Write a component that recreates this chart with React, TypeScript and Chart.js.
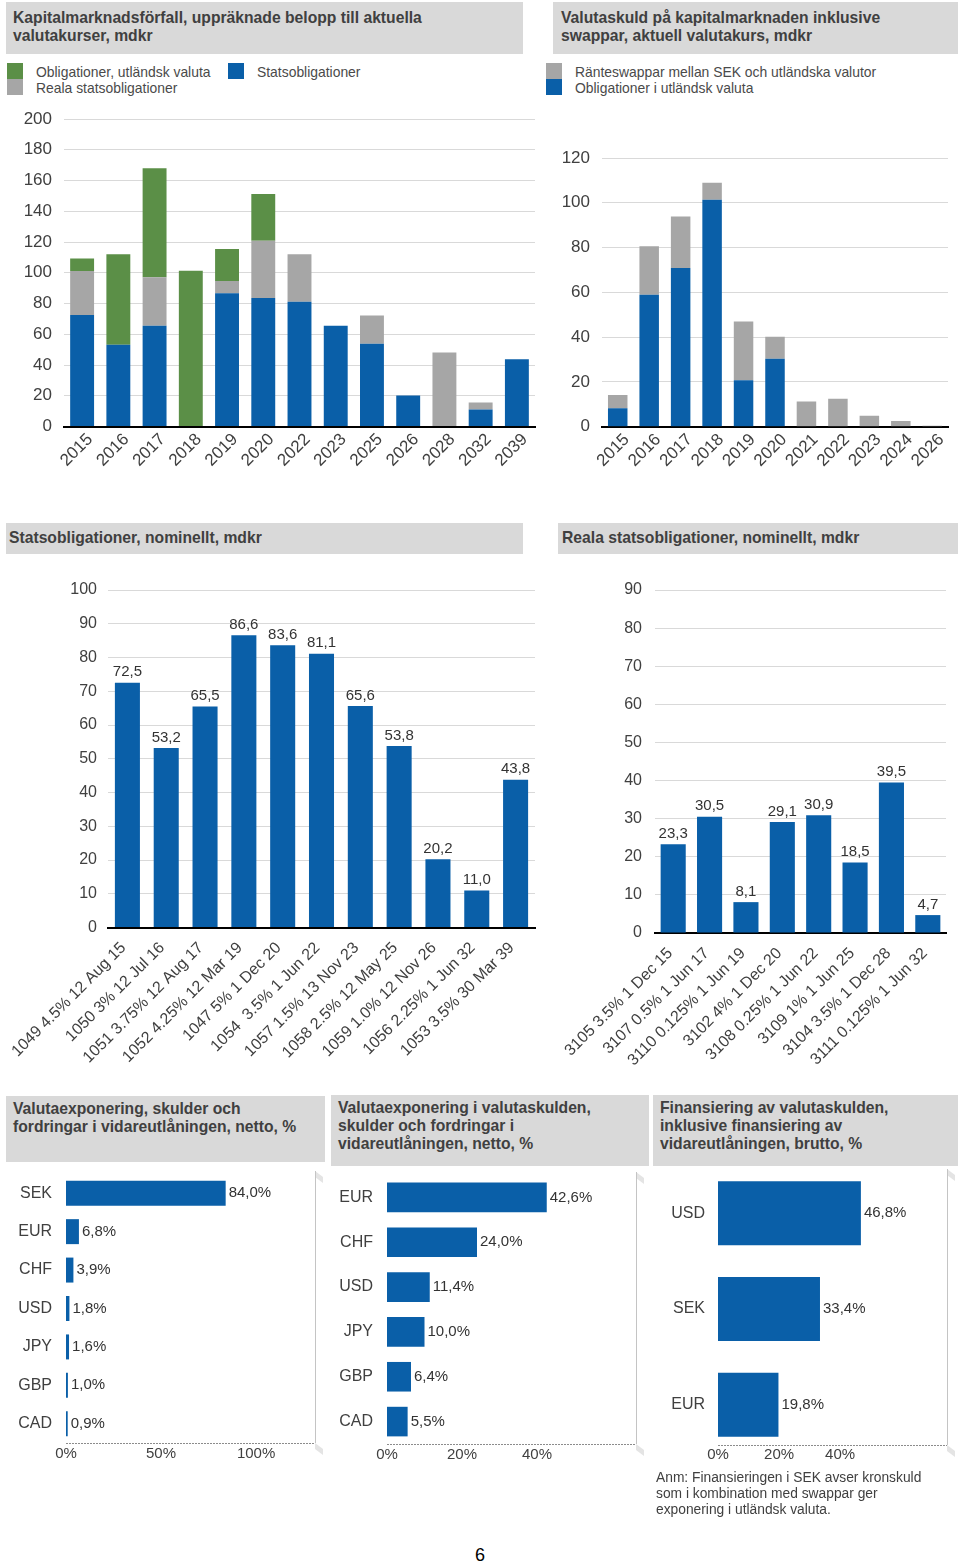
import React, { useEffect, useRef } from "react";
import { Chart, registerables } from "chart.js";

Chart.register(...registerables);

const FONT = '"Liberation Sans", Arial, Helvetica, sans-serif';
const BLUE = "#0a5fa8";
const GREEN = "#5b8f47";
const GRAY = "#a6a6a6";
const TEXT = "#404040";
const GRID = "#d9d9d9";
const BOXBG = "#d9d9d9";

// ---------- Chart 1: Kapitalmarknadsförfall ----------
const c1Years = ["2015", "2016", "2017", "2018", "2019", "2020", "2022", "2023", "2025", "2026", "2028", "2032", "2039"];
const c1Stats = [72.5, 53.2, 65.5, 0, 86.6, 83.6, 81.1, 65.6, 53.8, 20.2, 0, 11.0, 43.8];
const c1Reala = [28.6, 0, 31.5, 0, 8.0, 37.2, 31.0, 0, 18.4, 0, 48.2, 4.6, 0];
const c1Utl = [8.2, 58.9, 70.9, 101.3, 20.8, 30.4, 0, 0, 0, 0, 0, 0, 0];
const c1Names = ["Statsobligationer", "Reala statsobligationer", "Obligationer, utländsk valuta"];

// ---------- Chart 2: Valutaskuld ----------
const c2Years = ["2015", "2016", "2017", "2018", "2019", "2020", "2021", "2022", "2023", "2024", "2026"];
const c2Oblig = [8.2, 58.9, 70.9, 101.3, 20.8, 30.4, 0, 0, 0, 0, 0];
const c2Swap = [6.0, 21.7, 23.0, 7.7, 26.2, 9.8, 11.2, 12.5, 4.9, 2.5, 0.4];
const c2Names = ["Obligationer i utländsk valuta", "Ränteswappar mellan SEK och utländska valutor"];

// ---------- Chart 3: Statsobligationer ----------
const c3Labels = [
  "1049 4.5% 12 Aug 15",
  "1050 3% 12 Jul 16",
  "1051 3.75% 12 Aug 17",
  "1052 4.25% 12 Mar 19",
  "1047 5% 1 Dec 20",
  "1054  3.5% 1 Jun 22",
  "1057 1.5% 13 Nov 23",
  "1058 2.5% 12 May 25",
  "1059 1.0% 12 Nov 26",
  "1056 2.25% 1 Jun 32",
  "1053 3.5% 30 Mar 39",
];
const c3Values = [72.5, 53.2, 65.5, 86.6, 83.6, 81.1, 65.6, 53.8, 20.2, 11.0, 43.8];

// ---------- Chart 4: Reala statsobligationer ----------
const c4Labels = [
  "3105 3.5% 1 Dec 15",
  "3107 0.5% 1 Jun 17",
  "3110 0.125% 1 Jun 19",
  "3102 4% 1 Dec 20",
  "3108 0.25% 1 Jun 22",
  "3109 1% 1 Jun 25",
  "3104 3.5% 1 Dec 28",
  "3111 0.125% 1 Jun 32",
];
const c4Values = [23.3, 30.5, 8.1, 29.1, 30.9, 18.5, 39.5, 4.7];

// ---------- Chart 5-7: horizontal ----------
const c5Labels = ["SEK", "EUR", "CHF", "USD", "JPY", "GBP", "CAD"];
const c5Values = [84.0, 6.8, 3.9, 1.8, 1.6, 1.0, 0.9];
const c5Ticks = [0, 50, 100];

const c6Labels = ["EUR", "CHF", "USD", "JPY", "GBP", "CAD"];
const c6Values = [42.6, 24.0, 11.4, 10.0, 6.4, 5.5];
const c6Ticks = [0, 20, 40];

const c7Labels = ["USD", "SEK", "EUR"];
const c7Values = [46.8, 33.4, 19.8];
const c7Ticks = [0, 20, 40];

const fmtNum = (v: number) => v.toFixed(1).replace(".", ",");
const fmtPct = (v: number) => v.toFixed(1).replace(".", ",") + "%";

const valueLabelPlugin = {
  id: "valueLabels",
  afterDatasetsDraw(chart: any, _args: any, opts: any) {
    if (!opts || !opts.display) return;
    const ctx = chart.ctx;
    ctx.save();
    ctx.font = `${opts.size}px ${FONT}`;
    ctx.fillStyle = opts.color || "#333";
    chart.data.datasets.forEach((ds: any, di: number) => {
      const meta = chart.getDatasetMeta(di);
      meta.data.forEach((el: any, i: number) => {
        const raw = ds.data[i];
        if (raw === null || raw === undefined) return;
        const v = typeof raw === "object" ? raw.x : raw;
        const text = opts.pct ? fmtPct(v) : fmtNum(v);
        if (opts.horizontal) {
          ctx.textAlign = "left";
          ctx.textBaseline = "middle";
          ctx.fillText(text, el.x + opts.offset, el.y);
        } else {
          ctx.textAlign = "center";
          ctx.textBaseline = "bottom";
          ctx.fillText(text, el.x, el.y - opts.offset);
        }
      });
    });
    ctx.restore();
  },
};

const framePlugin = {
  id: "frame",
  beforeDatasetsDraw(chart: any, _args: any, opts: any) {
    if (!opts || !opts.display) return;
    const { left, right, top, bottom } = chart.chartArea;
    const ctx = chart.ctx;
    ctx.save();
    // small 3D wall shading
    ctx.fillStyle = "#e4e4e4";
    ctx.beginPath();
    ctx.moveTo(right, top - 3);
    ctx.lineTo(right + 8, top + 3);
    ctx.lineTo(right + 8, top + 9);
    ctx.lineTo(right, top + 3);
    ctx.closePath();
    ctx.fill();
    ctx.beginPath();
    ctx.moveTo(right, bottom);
    ctx.lineTo(right + 8, bottom + 6);
    ctx.lineTo(right + 8, bottom + 12);
    ctx.lineTo(right, bottom + 6);
    ctx.closePath();
    ctx.fill();
    ctx.strokeStyle = "#c4c4c4";
    ctx.lineWidth = 1;
    ctx.beginPath();
    ctx.moveTo(Math.round(right) + 0.5, top - 3);
    ctx.lineTo(Math.round(right) + 0.5, bottom);
    ctx.stroke();
    ctx.strokeStyle = "#8c8c8c";
    ctx.setLineDash([2, 1]);
    ctx.beginPath();
    ctx.moveTo(left, Math.round(bottom) + 0.5);
    ctx.lineTo(right, Math.round(bottom) + 0.5);
    ctx.stroke();
    ctx.restore();
  },
};

function vBarConfig(p: any) {
  return {
    type: "bar",
    data: {
      labels: p.labels,
      datasets: p.datasets.map((d: any) => ({
        ...d,
        borderWidth: 0,
        barPercentage: p.barPct,
        categoryPercentage: 1,
      })),
    },
    options: {
      responsive: false,
      animation: false,
      devicePixelRatio: 1,
      layout: { padding: { top: p.padTop, right: p.padRight, left: 0, bottom: 0 } },
      plugins: {
        legend: { display: false },
        tooltip: { enabled: false },
        valueLabels: { display: !!p.valueLabels, size: 15, offset: 3, color: "#333" },
      },
      scales: {
        x: {
          stacked: !!p.stacked,
          grid: { display: false, drawTicks: false },
          border: { display: true, color: "#000", width: 2 },
          ticks: {
            autoSkip: false,
            maxRotation: 45,
            minRotation: 45,
            padding: p.xPad,
            labelOffset: p.xOffset,
            color: TEXT,
            font: { family: FONT, size: p.xFont },
          },
          afterFit: (s: any) => {
            s.height = p.xHeight;
          },
        },
        y: {
          stacked: !!p.stacked,
          min: 0,
          max: p.yMax,
          ticks: {
            stepSize: p.yStep,
            padding: 0,
            color: TEXT,
            font: { family: FONT, size: p.yFont },
          },
          grid: {
            drawTicks: true,
            tickLength: p.yPad,
            tickColor: "rgba(0,0,0,0)",
            lineWidth: 1,
            color: (c: any) => (c.tick && c.tick.value === 0 ? "#000" : GRID),
          },
          border: { display: false },
          afterFit: (s: any) => {
            s.width = p.plotLeft;
          },
        },
      },
    },
    plugins: [valueLabelPlugin],
  };
}

function hBarConfig(p: any) {
  const linear = !!p.indexRange;
  const yScale: any = {
    grid: { display: false, drawTicks: true, tickLength: p.yPad, tickColor: "rgba(0,0,0,0)" },
    border: { display: false },
    ticks: { padding: 0, color: TEXT, font: { family: FONT, size: 16 } },
    afterFit: (s: any) => {
      s.width = p.plotLeft;
    },
  };
  if (linear) {
    yScale.type = "linear";
    yScale.offset = false;
    yScale.bounds = "data";
    yScale.reverse = true;
    yScale.min = p.indexRange[0];
    yScale.max = p.indexRange[1];
    yScale.afterBuildTicks = (s: any) => {
      s.ticks = p.labels.map((_l: string, i: number) => ({ value: i }));
    };
    yScale.ticks.callback = (v: any) => p.labels[v];
  }
  return {
    type: "bar",
    data: {
      labels: linear ? undefined : p.labels,
      datasets: [
        {
          data: linear ? p.values.map((v: number, i: number) => ({ x: v, y: i })) : p.values,
          backgroundColor: BLUE,
          borderWidth: 0,
          barPercentage: p.barPct,
          categoryPercentage: 1,
        },
      ],
    },
    options: {
      indexAxis: "y",
      responsive: false,
      animation: false,
      devicePixelRatio: 1,
      layout: { padding: { top: p.padTop, right: p.padRight, left: 0, bottom: 0 } },
      plugins: {
        legend: { display: false },
        tooltip: { enabled: false },
        valueLabels: { display: true, horizontal: true, pct: true, size: 15, offset: 3, color: "#333" },
        frame: { display: true },
      },
      scales: {
        y: yScale,
        x: {
          min: 0,
          max: p.xMax,
          grid: { display: false, drawTicks: false },
          border: { display: false },
          ticks: {
            padding: p.xPad,
            color: TEXT,
            font: { family: FONT, size: 15 },
            callback: (v: any) => v + "%",
          },
          afterBuildTicks: (s: any) => {
            s.ticks = p.ticks.map((v: number) => ({ value: v }));
          },
          afterFit: (s: any) => {
            s.height = p.xHeight;
          },
        },
      },
    },
    plugins: [valueLabelPlugin, framePlugin],
  };
}

function ChartCanvas({ left, top, width, height, config }: any) {
  const ref = useRef<HTMLCanvasElement>(null);
  useEffect(() => {
    const chart = new Chart(ref.current as HTMLCanvasElement, config);
    return () => chart.destroy();
  }, []);
  return (
    <canvas
      ref={ref}
      width={width}
      height={height}
      style={{ position: "absolute", left, top, width, height }}
    />
  );
}

function TitleBox({ left, top, width, height, lines, padLeft, padTop }: any) {
  return (
    <div
      style={{
        position: "absolute",
        left,
        top,
        width,
        height,
        background: BOXBG,
      }}
    >
      <div
        style={{
          position: "absolute",
          left: padLeft,
          top: padTop,
          fontFamily: FONT,
          fontWeight: "bold",
          fontSize: 15.7,
          lineHeight: "18px",
          color: TEXT,
          whiteSpace: "nowrap",
        }}
      >
        {lines.map((l: string, i: number) => (
          <div key={i}>{l}</div>
        ))}
      </div>
    </div>
  );
}

function LegendItem({ left, top, color, label }: any) {
  return (
    <>
      <div style={{ position: "absolute", left, top, width: 16, height: 16, background: color }} />
      <div
        style={{
          position: "absolute",
          left: left + 29,
          top: top + 1,
          height: 16,
          lineHeight: "16px",
          fontFamily: FONT,
          fontSize: 13.9,
          color: "#4a4a4a",
          whiteSpace: "nowrap",
        }}
      >
        {label}
      </div>
    </>
  );
}

export default function App() {
  const cfg1 = vBarConfig({
    labels: c1Years,
    datasets: [
      { label: c1Names[0], data: c1Stats, backgroundColor: BLUE },
      { label: c1Names[1], data: c1Reala, backgroundColor: GRAY },
      { label: c1Names[2], data: c1Utl, backgroundColor: GREEN },
    ],
    stacked: true,
    yMax: 200,
    yStep: 20,
    yFont: 17,
    xFont: 17,
    plotLeft: 64,
    yPad: 12,
    padTop: 18,
    padRight: 10,
    xHeight: 54.5,
    xPad: 3,
    xOffset: 8,
    barPct: 0.66,
  });
  const cfg2 = vBarConfig({
    labels: c2Years,
    datasets: [
      { label: c2Names[0], data: c2Oblig, backgroundColor: BLUE },
      { label: c2Names[1], data: c2Swap, backgroundColor: GRAY },
    ],
    stacked: true,
    yMax: 120,
    yStep: 20,
    yFont: 17,
    xFont: 17,
    plotLeft: 62,
    yPad: 12,
    padTop: 57,
    padRight: 12,
    xHeight: 54.3,
    xPad: 3,
    xOffset: 9,
    barPct: 0.62,
  });
  const cfg3 = vBarConfig({
    labels: c3Labels,
    datasets: [{ label: "Statsobligationer", data: c3Values, backgroundColor: BLUE }],
    yMax: 100,
    yStep: 10,
    yFont: 16,
    xFont: 16,
    plotLeft: 108,
    yPad: 11,
    padTop: 18,
    padRight: 10,
    xHeight: 144.5,
    xPad: 11,
    xOffset: -4,
    barPct: 0.645,
    valueLabels: true,
  });
  const cfg4 = vBarConfig({
    labels: c4Labels,
    datasets: [{ label: "Reala statsobligationer", data: c4Values, backgroundColor: BLUE }],
    yMax: 90,
    yStep: 10,
    yFont: 16,
    xFont: 16,
    plotLeft: 110,
    yPad: 13,
    padTop: 18,
    padRight: 14,
    xHeight: 139,
    xPad: 11,
    xOffset: -3,
    barPct: 0.69,
    valueLabels: true,
  });
  const cfg5 = hBarConfig({
    labels: c5Labels,
    values: c5Values,
    ticks: c5Ticks,
    xMax: 131,
    plotLeft: 66,
    yPad: 14,
    padTop: 13,
    padRight: 15,
    xHeight: 38,
    xPad: 2,
    barPct: 0.65,
  });
  const cfg6 = hBarConfig({
    labels: c6Labels,
    values: c6Values,
    ticks: c6Ticks,
    xMax: 66.4,
    plotLeft: 57,
    yPad: 14,
    padTop: 14,
    padRight: 14,
    xHeight: 37,
    xPad: 2,
    barPct: 0.66,
  });
  const cfg7 = hBarConfig({
    labels: c7Labels,
    values: c7Values,
    ticks: c7Ticks,
    indexRange: [-0.43, 2.42],
    xMax: 75,
    plotLeft: 68,
    yPad: 13,
    padTop: 12,
    padRight: 13,
    xHeight: 35,
    xPad: 1,
    barPct: 0.667,
  });

  return (
    <div
      style={{
        position: "absolute",
        left: 0,
        top: 0,
        width: 960,
        height: 1563,
        background: "#fff",
        overflow: "hidden",
        fontFamily: FONT,
      }}
    >
      <TitleBox
        left={6}
        top={2}
        width={517}
        height={52}
        padLeft={7}
        padTop={7}
        lines={["Kapitalmarknadsförfall, uppräknade belopp till aktuella", "valutakurser, mdkr"]}
      />
      <TitleBox
        left={553}
        top={2}
        width={405}
        height={52}
        padLeft={8}
        padTop={7}
        lines={["Valutaskuld på kapitalmarknaden inklusive", "swappar, aktuell valutakurs, mdkr"]}
      />
      <LegendItem left={7} top={63} color={GREEN} label={c1Names[2]} />
      <LegendItem left={7} top={79} color={GRAY} label={c1Names[1]} />
      <LegendItem left={228} top={63} color={BLUE} label={c1Names[0]} />
      <LegendItem left={546} top={63} color={GRAY} label={c2Names[1]} />
      <LegendItem left={546} top={79} color={BLUE} label={c2Names[0]} />

      <ChartCanvas left={0} top={101} width={545} height={380} config={cfg1} />
      <ChartCanvas left={540} top={101} width={420} height={380} config={cfg2} />

      <TitleBox left={6} top={523} width={517} height={31} padLeft={3} padTop={6} lines={["Statsobligationer, nominellt, mdkr"]} />
      <TitleBox left={558} top={523} width={400} height={31} padLeft={4} padTop={6} lines={["Reala statsobligationer, nominellt, mdkr"]} />

      <ChartCanvas left={0} top={572} width={545} height={500} config={cfg3} />
      <ChartCanvas left={545} top={572} width={415} height={500} config={cfg4} />

      <TitleBox
        left={6}
        top={1096}
        width={319}
        height={66}
        padLeft={7}
        padTop={4}
        lines={["Valutaexponering, skulder och", "fordringar i vidareutlåningen, netto, %"]}
      />
      <TitleBox
        left={331}
        top={1095}
        width={318}
        height={71}
        padLeft={7}
        padTop={4}
        lines={["Valutaexponering i valutaskulden,", "skulder och fordringar i", "vidareutlåningen, netto, %"]}
      />
      <TitleBox
        left={653}
        top={1095}
        width={305}
        height={71}
        padLeft={7}
        padTop={4}
        lines={["Finansiering av valutaskulden,", "inklusive finansiering av", "vidareutlåningen, brutto, %"]}
      />

      <ChartCanvas left={0} top={1161} width={330} height={320} config={cfg5} />
      <ChartCanvas left={330} top={1161} width={320} height={320} config={cfg6} />
      <ChartCanvas left={650} top={1160} width={310} height={320} config={cfg7} />

      <div
        style={{
          position: "absolute",
          left: 656,
          top: 1470,
          fontFamily: FONT,
          fontSize: 13.8,
          lineHeight: "16px",
          color: "#404040",
          whiteSpace: "nowrap",
        }}
      >
        <div>Anm: Finansieringen i SEK avser kronskuld</div>
        <div>som i kombination med swappar ger</div>
        <div>exponering i utländsk valuta.</div>
      </div>
      <div
        style={{
          position: "absolute",
          left: 475,
          top: 1545,
          fontFamily: FONT,
          fontSize: 18,
          lineHeight: "20px",
          color: "#000",
        }}
      >
        6
      </div>
    </div>
  );
}
